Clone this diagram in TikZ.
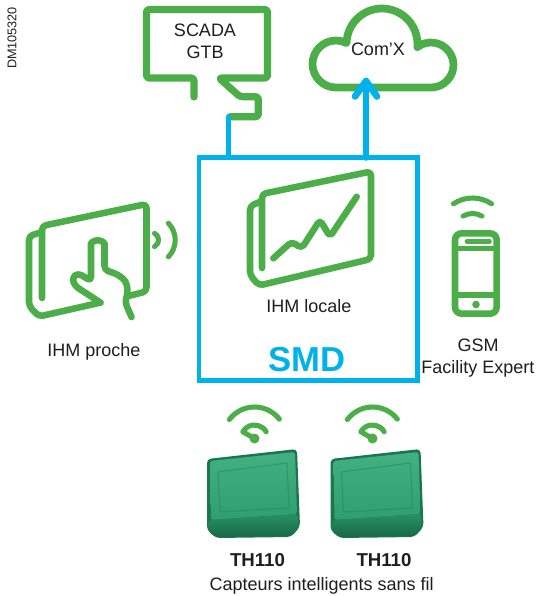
\documentclass[tikz,border=0pt]{standalone}
\usepackage{fontspec}
\setmainfont{Liberation Sans}
\usetikzlibrary{calc}
\definecolor{icongreen}{RGB}{76,174,72}
\definecolor{smdblue}{RGB}{0,178,235}
\definecolor{txt}{RGB}{30,30,30}
\definecolor{sensordark}{RGB}{26,118,80}
\definecolor{sensortop}{RGB}{66,176,128}
\definecolor{sensormid}{RGB}{48,158,110}
\definecolor{sensorrim}{RGB}{38,140,96}
\definecolor{sensorfront}{RGB}{38,146,100}
\definecolor{sensorshade}{RGB}{24,104,72}

% one TH110 sensor housing, shifted horizontally by #1
\newcommand\thsensor[1]{%
  \begin{scope}[shift={(#1,0)}]
    \fill[sensordark, rounded corners=3pt]
      (207,459) -- (297,449) -- (300,527) -- (291,537) -- (216,538) -- (207,530) -- cycle;
    \shade[top color=sensortop, bottom color=sensormid, rounded corners=2pt]
      (210,461) -- (295,452) -- (297,514) -- (211,520) -- cycle;
    \draw[sensorrim, line width=0.7pt, opacity=0.7]
      (218,472) -- (287,463) -- (289,508) -- (220,512) -- cycle;
    \shade[top color=sensorfront, bottom color=sensorshade, rounded corners=2pt]
      (209,520) -- (297,514) -- (299,527) -- (290,536) -- (216,537) -- (208,530) -- cycle;
  \end{scope}}

% wireless symbol above a sensor, centred on its dot
\newcommand\sensorwifi[1]{%
  \fill[icongreen] (#1) circle[radius=5];
  \draw[waveline] (#1) ++(-143:31.5) arc[start angle=-143, end angle=-38, radius=31.5];
  \draw[waveline] (#1) ++(-30:13.5) arc[start angle=-30, end angle=-150, radius=13.5] -- (#1);}

\begin{document}
\begin{tikzpicture}[x=0.75pt, y=-0.75pt,
  every node/.style={inner sep=0pt, outer sep=0pt, text=txt},
  lbl/.style={font=\fontsize{13.5}{16.5}\selectfont, align=center},
  boldlbl/.style={font=\fontsize{14}{16}\selectfont\bfseries},
  gline/.style={draw=icongreen, line width=5pt, line cap=round, line join=round},
  bubbleline/.style={gline, line width=5.4pt, rounded corners=2pt},
  cloudline/.style={gline, line width=5.8pt},
  iconline/.style={gline, line width=4.9pt, rounded corners=3pt},
  waveline/.style={gline, line width=3.8pt},
  blueline/.style={draw=smdblue, line width=3.6pt, line cap=round},
  arrowline/.style={draw=smdblue, line width=5pt, line cap=round, line join=round},
  smdbox/.style={draw=smdblue, line width=3.6pt, minimum width=163.9pt, minimum height=167.3pt}]

\useasboundingbox (0,0) rectangle (538,596);
\fill[white] (0,0) rectangle (538,596);

% drawing reference
\node[rotate=90, font=\fontsize{9.5}{11}\selectfont] (docref) at (12,38) {DM105320};

% ---- SMD cabinet ----
\node[smdbox] (smd) at (308.25,269) {};
\node[font=\fontsize{26}{28}\selectfont\bfseries, text=smdblue, anchor=base] (smdname) at (307,371.5) {SMD};

% ---- SCADA / GTB speech bubble ----
\node[lbl] (scada) at (205,41.8) {SCADA\\GTB};
\coordinate (scadatail) at (230,116.7);
\draw[bubbleline] (194,97) -- (194,78) -- (146.5,78) -- (146.5,9.5) -- (267.5,9.5)
  -- (267.5,78) -- (219,78) -- (240,96.7) -- (258.3,96.7) -- (258.3,116.7) -- (scadatail);
\coordinate (scadalink) at (228.5,116.7);
\draw[blueline] (scadalink) -- (scadalink |- smd.north);

% ---- Com'X cloud ----
\draw[cloudline] (336,87.5) arc[start angle=90, end angle=296.6, radius=23.5]
  arc[start angle=181.6, end angle=365, radius=35.5]
  arc[start angle=232.8, end angle=450, radius=22.5] -- cycle;
\node[lbl, anchor=base] (comx) at (378,55) {Com'X};
\coordinate (comxtip) at (366,81);
\draw[arrowline] (comxtip |- smd.north) -- (comxtip);
\draw[arrowline] (comxtip) ++(-11,15.5) -- (comxtip) -- ++(11,15.5);

% ---- local HMI (tablet with trend curve) ----
\draw[iconline] (262,268) -- (262,194) -- (371,171.5) -- (371,259) -- (259,285.5)
  -- (250,275) -- (250,206) -- (262,201);
\draw[iconline] (273.3,258.3) -- (291.7,241.7) -- (301.7,248.3) -- (320,220)
  -- (330,236.7) -- (356.7,196.7);
\node[lbl, anchor=base] (ihmlocale) at (309,312.3) {IHM locale};

% ---- nearby HMI (tablet touched by a hand) ----
\draw[iconline] (42,298) -- (42,226) -- (146.5,204) -- (146.5,291.5) -- (127,296.3);
\draw[iconline] (100.5,302.6) -- (39,316.5) -- (29,306) -- (29,236) -- (42,232);
\draw[iconline] (100.5,302.6) -- (75,286) -- (72,278) -- (78,273) -- (91,281) -- (91,247)
  arc[start angle=180, end angle=360, radius=6.75] -- (104.5,270) -- (117,274) -- (126,281)
  -- (128,292) -- (125,302) -- (131.5,317);
\coordinate (wavec) at (151,240);
\draw[waveline] (wavec) ++(-62:7.5) arc[start angle=-62, end angle=62, radius=7.5];
\draw[waveline] (wavec) ++(-44:24.2) arc[start angle=-44, end angle=44, radius=24.2];
\node[lbl, anchor=base] (ihmproche) at (94,356.7) {IHM proche};

% ---- GSM phone ----
\coordinate (phonewifi) at (472.5,232);
\draw[waveline] (phonewifi) ++(-124:34) arc[start angle=-124, end angle=-56, radius=34];
\draw[waveline] (phonewifi) ++(-121:18.5) arc[start angle=-121, end angle=-59, radius=18.5];
\draw[iconline, rounded corners=5pt] (455,233.3) rectangle (496.7,313.7);
\draw[gline, line width=3.4pt] (467,241.5) -- (489.5,241.5);
\draw[gline, line width=3.8pt] (455,248.3) -- (493.5,248.3);
\draw[gline, line width=3.8pt] (455,295) -- (493.5,295);
\fill[icongreen] (476,304.5) circle[radius=3.8];
\node[lbl] (gsm) at (478,357.9) {GSM\\Facility Expert};

% ---- TH110 wireless sensors ----
\coordinate (dotA) at (254.5,438.5);
\coordinate (dotB) at (372.5,438.5);
\sensorwifi{dotA}
\sensorwifi{dotB}
\thsensor{0}
\thsensor{123.5}
\node[boldlbl, anchor=base] (thA) at (257.5,566.7) {TH110};
\node[boldlbl, anchor=base] (thB) at (384,566.7) {TH110};
\node[lbl, anchor=base] (capteurs) at (321.7,590) {Capteurs intelligents sans fil};

\end{tikzpicture}
\end{document}
